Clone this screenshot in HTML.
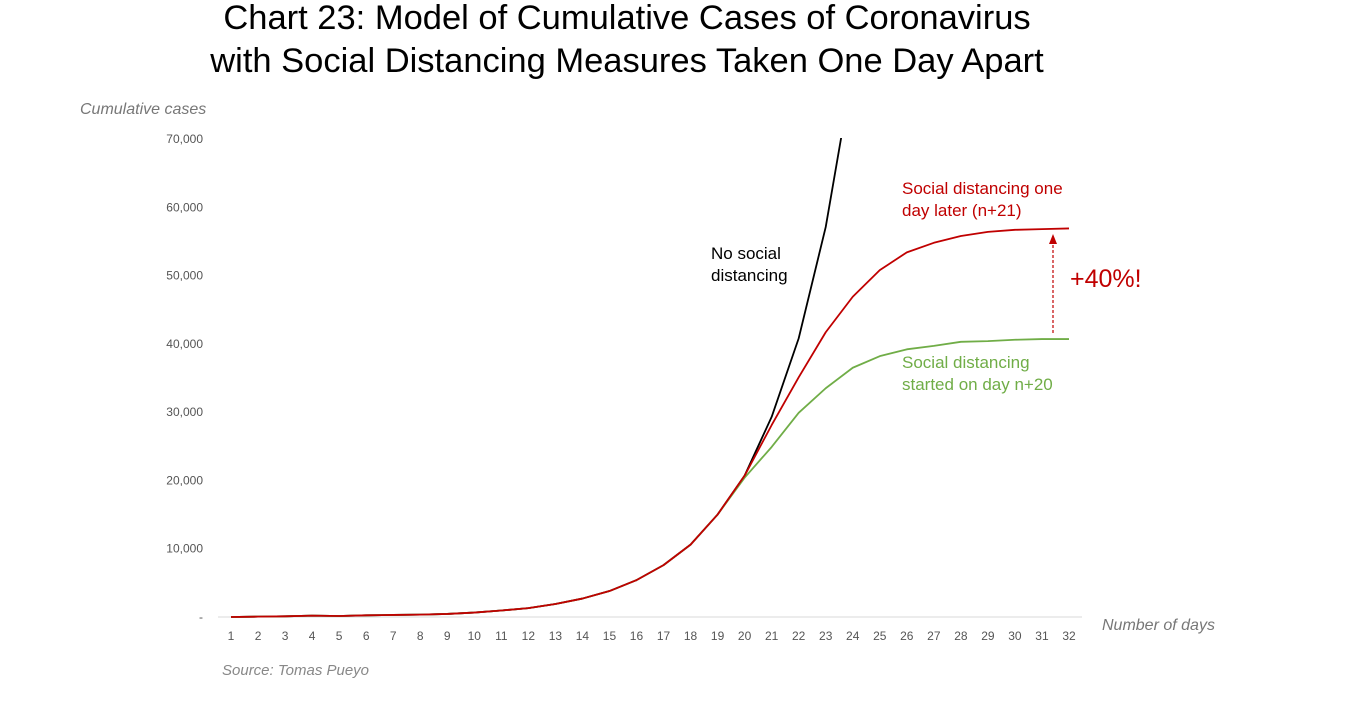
<!DOCTYPE html>
<html><head><meta charset="utf-8">
<style>
html,body{margin:0;padding:0;background:#fff;}
body{width:1353px;height:704px;overflow:hidden;font-family:"Liberation Sans",sans-serif;}
</style></head>
<body>
<svg id="chart" width="1353" height="704" xmlns="http://www.w3.org/2000/svg" font-family="Liberation Sans, sans-serif">
<text x="627" y="29" text-anchor="middle" font-size="34.5" fill="#000">Chart 23: Model of Cumulative Cases of Coronavirus</text>
<text x="627" y="72" text-anchor="middle" font-size="34.5" fill="#000">with Social Distancing Measures Taken One Day Apart</text>
<text x="80" y="114" font-size="16" font-style="italic" fill="#777">Cumulative cases</text>
<text x="1102" y="630" font-size="16" font-style="italic" fill="#777">Number of days</text>
<text x="222" y="675" font-size="15" font-style="italic" fill="#888">Source: Tomas Pueyo</text>
<defs><clipPath id="plotclip"><rect x="200" y="138" width="900" height="500"/></clipPath></defs>
<g id="axes"></g>
<g id="series" clip-path="url(#plotclip)"></g>
<line x1="1053" y1="333" x2="1053" y2="243" stroke="#c00000" stroke-width="1.2" stroke-dasharray="3,2"/>
<polygon points="1053,234 1049,244 1057,244" fill="#c00000"/>
<text x="1070" y="287" font-size="25" fill="#c00000">+40%!</text>
<text font-size="17" fill="#000"><tspan x="711" y="259">No social</tspan><tspan x="711" y="281">distancing</tspan></text>
<text font-size="17" fill="#c00000"><tspan x="902" y="194">Social distancing one</tspan><tspan x="902" y="216">day later (n+21)</tspan></text>
<text font-size="17" fill="#70ad47"><tspan x="902" y="368">Social distancing</tspan><tspan x="902" y="390">started on day n+20</tspan></text>
</svg>
<script>
const days = [1,2,3,4,5,6,7,8,9,10,11,12,13,14,15,16,17,18,19,20,21,22,23,24,25,26,27,28,29,30,31,32];
const noDistancing = [0,50,100,200,150,250,300,350,450,650,950,1300,1900,2700,3800,5400,7600,10600,15000,20700,29300,40800,57100,80000];
const distancingDay21 = [0,50,100,200,150,250,300,350,450,650,950,1300,1900,2700,3800,5400,7600,10600,15000,20700,28100,35100,41700,46900,50800,53400,54800,55800,56400,56700,56800,56900];
const distancingDay20 = [0,50,100,200,150,250,300,350,450,650,950,1300,1900,2700,3800,5400,7600,10600,15000,20400,24900,29900,33500,36500,38200,39200,39700,40300,40400,40600,40700,40700];
const yTicks = [0,10000,20000,30000,40000,50000,60000,70000];
const yTickLabels = ["-","10,000","20,000","30,000","40,000","50,000","60,000","70,000"];

const NS = "http://www.w3.org/2000/svg";
function xScale(d){ return 231 + (d-1)*(838/31); }
function yScale(v){ return 617 - v*(478/70000); }

const axes = document.getElementById('axes');
const series = document.getElementById('series');

const base = document.createElementNS(NS,'line');


base.setAttribute('x1',218); base.setAttribute('x2',1082);
base.setAttribute('y1',yScale(0)); base.setAttribute('y2',yScale(0));
base.setAttribute('stroke','#d9d9d9'); base.setAttribute('stroke-width','1');
axes.appendChild(base);

yTicks.forEach((v,i)=>{
  const t = document.createElementNS(NS,'text');
  
  
  t.setAttribute('x',203); t.setAttribute('y',yScale(v)+4);
  t.setAttribute('text-anchor','end'); t.setAttribute('font-size','12'); t.setAttribute('fill','#555');
  t.textContent = yTickLabels[i];
  axes.appendChild(t);
});
days.forEach(d=>{
  const t = document.createElementNS(NS,'text');
  
  
  t.setAttribute('x',xScale(d)); t.setAttribute('y',640);
  t.setAttribute('text-anchor','middle'); t.setAttribute('font-size','12'); t.setAttribute('fill','#555');
  t.textContent = d;
  axes.appendChild(t);
});

function drawLine(vals,color,name){
  const p = document.createElementNS(NS,'polyline');
  
  
  p.setAttribute('points', vals.map((v,i)=>xScale(days[i])+','+yScale(v)).join(' '));
  p.setAttribute('fill','none'); p.setAttribute('stroke',color); p.setAttribute('stroke-width','1.8');
  p.setAttribute('stroke-linejoin','round');
  series.appendChild(p);
}
drawLine(noDistancing,'#000','line-no-distancing');
drawLine(distancingDay20,'#70ad47','line-distancing-day20');
drawLine(distancingDay21,'#c00000','line-distancing-day21');
</script>
</body></html>
